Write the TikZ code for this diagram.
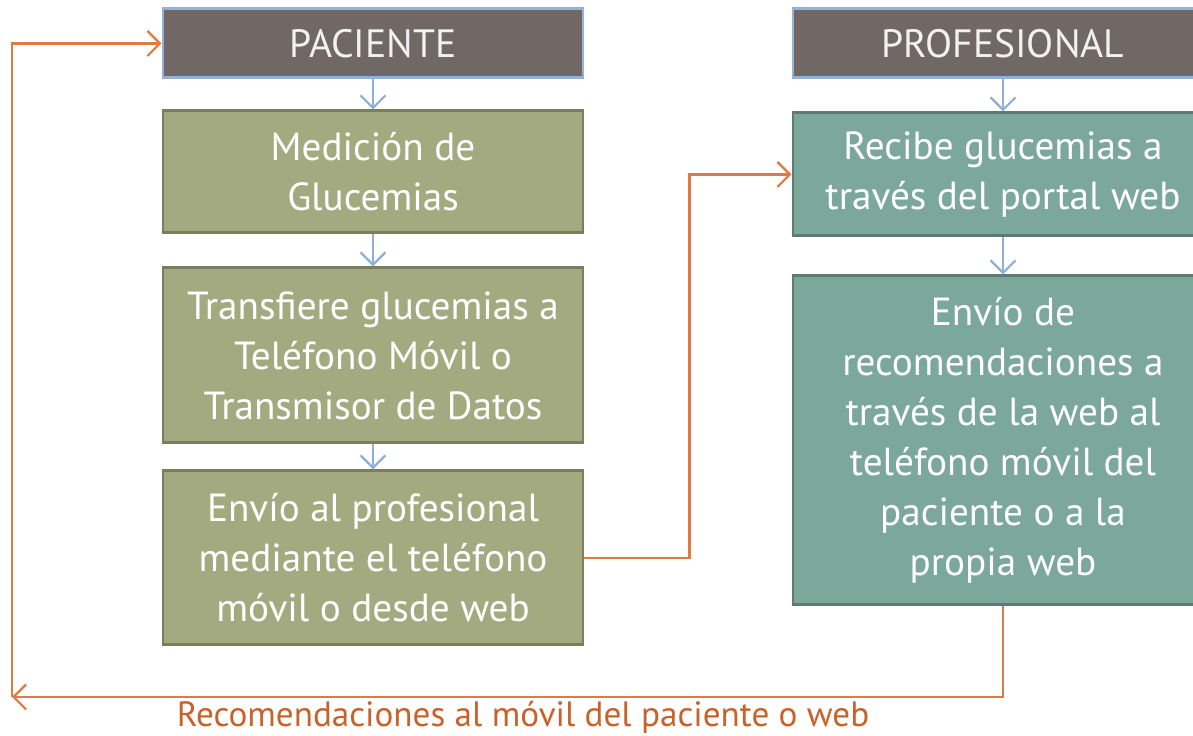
\documentclass[tikz,border=0pt]{standalone}
\usepackage{fontspec}
\setmainfont{PT Sans}
\usepackage{tikz}
\usetikzlibrary{arrows.meta,positioning}
\definecolor{titlefill}{HTML}{716866}
\definecolor{titleline}{HTML}{92B2D6}
\definecolor{greenfill}{HTML}{A4AA80}
\definecolor{greenline}{HTML}{787E5E}
\definecolor{tealfill}{HTML}{7BA89B}
\definecolor{tealline}{HTML}{5E7A71}
\definecolor{flowblue}{HTML}{8EB0D6}
\definecolor{floworange}{HTML}{E07B40}
\definecolor{labelorange}{HTML}{C8622A}
\tikzset{
    titlebox/.style={draw=titleline, fill=titlefill, line width=1.7pt, minimum width=8.4cm, minimum height=1.38cm, inner sep=0pt, text=white!95!black, font=\fontsize{22.5}{28}\selectfont},
    patbox/.style={draw=greenline, fill=greenfill, line width=1.7pt, minimum width=8.4cm, inner sep=0pt, align=center, text=white, font=\fontsize{22.3}{28.5}\selectfont},
    probox/.style={patbox, draw=tealline, fill=tealfill},
    down/.style={-{Straight Barb[length=2.5mm, width=5mm]}, flowblue, line width=1.3pt},
    flow/.style={-{Straight Barb[length=2.5mm, width=5mm]}, floworange, line width=1.3pt}
}
\begin{document}
\begin{tikzpicture}
    \clip (0,0) rectangle (23.86,14.72);
    \node[titlebox] (pac) at (7.46,13.85) {PACIENTE};
    \node[patbox, minimum height=2.44cm, below=0.6cm of pac] (med) {Medición de\\Glucemias};
    \node[patbox, minimum height=3.5cm, below=0.64cm of med] (trans) {Transfiere glucemias a\\Teléfono Móvil o\\Transmisor de Datos};
    \node[patbox, minimum height=3.48cm, below=0.5cm of trans] (envio) {Envío al profesional\\mediante el teléfono\\móvil o desde web};

    \node[titlebox] (prof) at (20.06,13.85) {PROFESIONAL};
    \node[probox, minimum height=2.46cm, below=0.64cm of prof] (recibe) {Recibe glucemias a\\través del portal web};
    \node[probox, minimum height=6.58cm, below=0.74cm of recibe] (recom) {Envío de\\recomendaciones a\\través de la web al\\teléfono móvil del\\paciente o a la\\propia web};

    \coordinate (ret) at (0.24,0.78);
    \node[text=labelorange, font=\fontsize{20}{23}\selectfont] (lbl) at (10.46,0.38) {Recomendaciones al móvil del paciente o web};

    \draw[down] (pac) -- (med);
    \draw[down] (med) -- (trans);
    \draw[down] (trans) -- (envio);
    \draw[down] (prof) -- (recibe);
    \draw[down] (recibe) -- (recom);

    \draw[flow] (envio.east) -- ++(2.1,0) |- (recibe.west);
    \draw[flow] (recom.south) |- (ret);
    \draw[flow] (ret) |- (pac.west);
\end{tikzpicture}
\end{document}
